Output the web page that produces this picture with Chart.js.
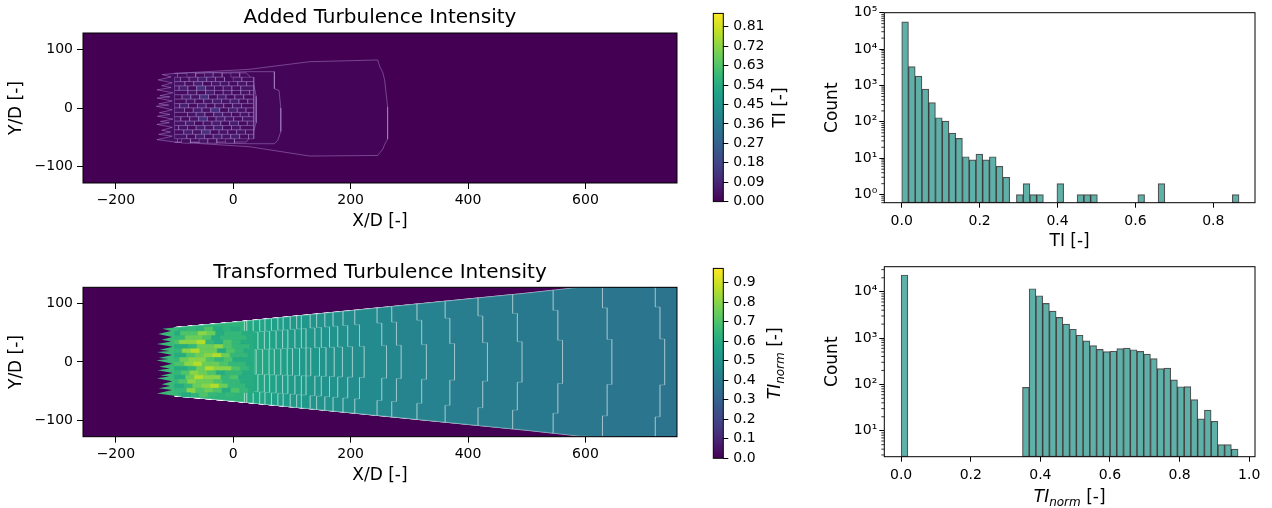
<!DOCTYPE html>
<html>
<head>
<meta charset="utf-8">
<title>Turbulence Intensity</title>
<script src="https://cdn.jsdelivr.net/npm/chart.js@4.4.1/dist/chart.umd.min.js"></script>
<style>
  html, body { margin: 0; padding: 0; background: #ffffff; }
  #fig { position: relative; width: 1272px; height: 508px; overflow: hidden; background: #ffffff; }
  #fig canvas { position: absolute; }
</style>
</head>
<body>
<div id="fig">
  <canvas id="mapAdded" width="700" height="245" style="left:0px;top:0px"></canvas>
  <canvas id="cbAdded" width="100" height="215" style="left:700px;top:0px"></canvas>
  <canvas id="histAdded" width="472" height="255" style="left:800px;top:0px"></canvas>
  <canvas id="mapNorm" width="700" height="253" style="left:0px;top:255px"></canvas>
  <canvas id="cbNorm" width="100" height="253" style="left:700px;top:255px"></canvas>
  <canvas id="histNorm" width="472" height="253" style="left:800px;top:255px"></canvas>
</div>
<script>
// ======================= DATA =======================
// axes of the two wake maps
const mapXLimits = [-256, 756];
const mapYLimits = [-128, 128];
const mapXTicks = [-200, 0, 200, 400, 600];
const mapYTicks = [-100, 0, 100];

// colour bars
const cbAddedMax = 0.872;
const cbAddedTicks = [0, 0.09, 0.18, 0.27, 0.36, 0.45, 0.54, 0.63, 0.72, 0.81];
const cbNormMax = 0.973;
const cbNormTicks = [0, 0.1, 0.2, 0.3, 0.4, 0.5, 0.6, 0.7, 0.8, 0.9];

// jagged upstream edge of the wake (X/D, Y/D), shared by both maps
const spikeX = [-95, -100, -121, -106, -128, -104, -122, -106, -130, -103, -125, -108, -130, -104, -127, -110, -131,
                -104, -126, -108, -129, -103, -124, -109, -130, -104, -122, -107, -127, -104, -130, -100, -95];
const spikeY = [59, 59, 57, 53, 48, 43, 38, 35, 31, 26, 21, 19, 17, 12, 7, 5, 3,
                -3, -8, -11, -14, -19, -23, -25, -28, -33, -38, -41, -45, -48, -54, -58, -58];

// near-wake cells shared by both maps (column edges in X/D, row edges in Y/D, per-row streak shift in X/D)
const nearColX = [-100, -85, -70, -55, -40, -25, -10, 5, 20, 35];
const nearRowY = [67.5, 60, 52.5, 45, 37.5, 30, 22.5, 15, 7.5, 0, -7.5, -15, -22.5, -30, -37.5, -45, -52.5, -60, -67.5];
const nearRowShift = [0, 6, -5, 3, -7, 8, -2, 5, -6, 2, 7, -4, 4, -8, 1, 6, -3, 0];

// ---- Added turbulence intensity map: nested contour zones and their TI
const addZoneAX = [-100, 27, 130, 246, 250, 255, 258, 263, 263, 258, 255, 250, 246, 130, 27, -100];
const addZoneAY = [59, 66, 79, 82, 70, 60, 47, 2, -53, -62, -70, -76, -81, -82, -66, -58];
const addZoneBX = [-100, 27, 70, 70, 78, 81, 81, 76, 70, 27, -100];
const addZoneBY = [59, 62, 62, 33, 30, 0, -40, -55, -61, -61, -58];
const addZoneCX = [-100, 22, 30, 35, 39, 39, 33, 22, -100];
const addZoneCY = [59, 60, 52, 40, 20, -25, -45, -58, -58];
const addZoneLevel = [0.008, 0.014, 0.022];
const addSpikeLevel = 0.03;
// added TI in the near wake ('.' = zone value underneath)
const addCodeLevel = {'1': 0.025, '2': 0.045, '3': 0.07, '4': 0.12};
const addNearCodes = [
  ".........",
  ".1.21.1..",
  "212321.21",
  "213122121",
  "231421212",
  "121312121",
  "132413121",
  "121232312",
  "231312121",
  "213241321",
  "123132121",
  "212413212",
  "231231312",
  "121323121",
  "132412121",
  "213132312",
  ".1.21.1..",
  "........."
];

// ---- Transformed (normalised) TI map
// wake cone outline
const coneX   = [-100, 0, 100, 200, 300, 400, 500, 590, 770];
const coneTop = [59, 68, 78, 88, 98, 108, 118, 128, 132];
const coneBot = [-58, -67, -77, -87, -97, -107, -117, -127, -132];
// contour edges on the centreline and the TI_norm level left of each edge
const normEdgeX = [35, 39, 50, 61, 70, 81, 92, 101, 113, 124, 132, 147, 158, 172, 186, 203, 223, 261, 286, 329, 377, 433, 492, 561, 645, 735];
const normEdgeLevel = [0.63, 0.60, 0.59, 0.58, 0.57, 0.56, 0.55, 0.54, 0.53, 0.52, 0.515, 0.51, 0.50, 0.495, 0.49, 0.48, 0.47, 0.46, 0.45, 0.44, 0.43, 0.415, 0.405, 0.395, 0.385, 0.378];
const normFarLevel = 0.372;
const normSpikeLevel = 0.66;
const normCodeLevel = {'1': 0.50, '2': 0.55, '3': 0.60, '4': 0.65, '5': 0.70, '6': 0.75, '7': 0.80, '8': 0.86, '9': 0.92};
const normNearCodes = [
  ".........",
  ".4.53.3..",
  "355763443",
  "466534443",
  "577843543",
  "346675443",
  "478663543",
  "356786443",
  "467754533",
  "578665443",
  "346877543",
  "457653443",
  "368774533",
  "457665443",
  "346786443",
  "475653543",
  ".3.54.4..",
  "........."
];

// ---- Histogram of added TI (50 bins)
const tiBinCenters = [0.0087, 0.026, 0.0433, 0.0606, 0.0779, 0.0953, 0.1126, 0.1299, 0.1472, 0.1646,
  0.1819, 0.1992, 0.2165, 0.2338, 0.2512, 0.2685, 0.2858, 0.3031, 0.3205, 0.3378,
  0.3551, 0.3724, 0.3897, 0.4071, 0.4244, 0.4417, 0.459, 0.4764, 0.4937, 0.511,
  0.5283, 0.5456, 0.563, 0.5803, 0.5976, 0.6149, 0.6323, 0.6496, 0.6669, 0.6842,
  0.7015, 0.7189, 0.7362, 0.7535, 0.7708, 0.7882, 0.8055, 0.8228, 0.8401, 0.8574];
const tiCounts = [56000, 3300, 1800, 790, 340, 130, 105, 49, 35, 11,
  9, 13, 9, 11, 6, 3, null, 1, 2, 1,
  1, null, null, 2, null, null, 1, 1, 1, null,
  null, null, null, null, null, 1, null, null, 2, null,
  null, null, null, null, null, null, null, null, null, 1];
const tiXLimits = [-0.0447, 0.907];
const tiXTicks = [0, 0.2, 0.4, 0.6, 0.8];
const tiYLimits = [0.62, 100000];
const tiYTicks = [1, 10, 100, 1000, 10000, 100000];

// ---- Histogram of TI_norm (50 bins)
const normBinCenters = [0.0097, 0.029, 0.0484, 0.0678, 0.0871, 0.1065, 0.1258, 0.1452, 0.1646, 0.1839,
  0.2033, 0.2226, 0.242, 0.2614, 0.2807, 0.3001, 0.3194, 0.3388, 0.3582, 0.3775,
  0.3969, 0.4162, 0.4356, 0.455, 0.4743, 0.4937, 0.513, 0.5324, 0.5518, 0.5711,
  0.5905, 0.6098, 0.6292, 0.6486, 0.6679, 0.6873, 0.7066, 0.726, 0.7454, 0.7647,
  0.7841, 0.8034, 0.8228, 0.8422, 0.8615, 0.8809, 0.9002, 0.9196, 0.939, 0.9583];
const normCounts = [23000, null, null, null, null, null, null, null, null, null,
  null, null, null, null, null, null, null, null, 86, 11600,
  8200, 5600, 3800, 2800, 2000, 1550, 1150, 870, 690, 570,
  510, 520, 590, 610, 560, 515, 450, 360, 220, 225,
  125, 89, 90, 47, 18, 28, 16, 5, 5, 4];
const normXLimits = [-0.0484, 1.0166];
const normXTicks = [0, 0.2, 0.4, 0.6, 0.8, 1.0];
const normYLimits = [2.75, 34700];
const normYTicks = [10, 100, 1000, 10000];

// ======================= HELPERS =======================
Chart.defaults.font.family = '"DejaVu Sans", "Liberation Sans", sans-serif';
Chart.defaults.color = '#000';

const VIRIDIS = [[0,'#440154'],[0.1,'#482475'],[0.111,'#482878'],[0.2,'#414487'],[0.222,'#3e4989'],
  [0.3,'#355f8d'],[0.333,'#31688e'],[0.4,'#2a788e'],[0.444,'#26828e'],[0.5,'#21918c'],[0.556,'#1f9e89'],
  [0.6,'#22a884'],[0.667,'#35b779'],[0.7,'#44bf70'],[0.778,'#6ece58'],[0.8,'#7ad151'],[0.889,'#b5de2b'],
  [0.9,'#bddf26'],[1,'#fde725']];
const VIR_RGB = VIRIDIS.map(([t, h]) => [t, [parseInt(h.slice(1,3),16), parseInt(h.slice(3,5),16), parseInt(h.slice(5,7),16)]]);
function viridis(t) {
  t = Math.max(0, Math.min(1, t));
  for (let i = 1; i < VIR_RGB.length; i++) {
    const [t1, c1] = VIR_RGB[i];
    if (t <= t1) {
      const [t0, c0] = VIR_RGB[i - 1];
      const f = (t - t0) / (t1 - t0);
      return 'rgb(' + c0.map((v, k) => Math.round(v + f * (c1[k] - v))).join(',') + ')';
    }
  }
  return 'rgb(253,231,37)';
}
const minus = v => (v < 0 ? '\u2212' + Math.abs(v) : String(v));
const SUP = {'-':'\u207B','0':'\u2070','1':'\u00B9','2':'\u00B2','3':'\u00B3','4':'\u2074','5':'\u2075','6':'\u2076','7':'\u2077','8':'\u2078','9':'\u2079'};
const pow10Label = v => '10' + String(Math.round(Math.log10(v))).split('').map(c => SUP[c]).join('');

function poly(points, fill, line, width) {
  return {
    type: 'line', data: points, fill: 'shape', backgroundColor: fill,
    borderColor: line || fill, borderWidth: (width === undefined ? 0 : width),
    pointRadius: 0, pointHoverRadius: 0, tension: 0
  };
}
function closed(pts) { return pts.concat([pts[0]]); }
function zone(xs, ys) { return closed(xs.map((x, i) => ({x: x, y: ys[i]}))); }
function rect(x0, y0, x1, y1) { return closed([{x:x0,y:y0},{x:x1,y:y0},{x:x1,y:y1},{x:x0,y:y1}]); }
function along(xs, ys, x) {
  if (x <= xs[0]) return ys[0];
  for (let i = 1; i < xs.length; i++) if (x <= xs[i]) return ys[i-1] + (ys[i] - ys[i-1]) * (x - xs[i-1]) / (xs[i] - xs[i-1]);
  return ys[ys.length - 1];
}
// contour band: wake cone up to a stepped edge whose centre sits at xe
function bandPolygon(xe) {
  const xo = xe - 16, xm = xe - 8;
  const tO = along(coneX, coneTop, xo), bO = along(coneX, coneBot, xo);
  const tM = along(coneX, coneTop, xm), bM = along(coneX, coneBot, xm);
  const pts = [];
  coneX.forEach((x, i) => { if (x < xo) pts.push({x: x, y: coneTop[i]}); });
  pts.push({x: xo, y: tO}, {x: xo, y: 0.72 * tO}, {x: xm, y: 0.72 * tO}, {x: xm, y: 0.3 * tM},
           {x: xe, y: 0.3 * tM}, {x: xe, y: 0.3 * bM}, {x: xm, y: 0.3 * bM}, {x: xm, y: 0.72 * bO},
           {x: xo, y: 0.72 * bO}, {x: xo, y: bO});
  for (let i = coneX.length - 1; i >= 0; i--) if (coneX[i] < xo) pts.push({x: coneX[i], y: coneBot[i]});
  return closed(pts);
}
function cellSets(codes, levels, vmax, line, lineFrom) {
  const out = [];
  codes.forEach((row, r) => {
    const last = nearColX.length - 1;
    const edges = nearColX.map((x, c) => (c === 0 || c === last) ? x : x + nearRowShift[r]);
    for (let c = 0; c < row.length; c++) {
      const ch = row[c];
      if (ch === '.') continue;
      const v = levels[ch];
      const col = viridis(v / vmax);
      const pts = rect(edges[c], nearRowY[r], edges[c + 1], nearRowY[r + 1]);
      if (line && ch >= lineFrom) out.push(poly(pts, col, line, 0.8));
      else out.push(poly(pts, col, col, 0.6));
    }
  });
  return out;
}

const framePlugin = {
  id: 'frame',
  afterDraw(chart) {
    const {ctx, chartArea: a} = chart;
    ctx.save();
    ctx.strokeStyle = '#000';
    ctx.lineWidth = 1;
    ctx.strokeRect(a.left, a.top, a.right - a.left, a.bottom - a.top);
    ctx.restore();
  }
};
const minorLogTicks = {
  id: 'minorLogTicks',
  afterDraw(chart) {
    const s = chart.scales.y;
    const ctx = chart.ctx;
    ctx.save();
    ctx.strokeStyle = '#000';
    ctx.lineWidth = 0.8;
    const lo = Math.floor(Math.log10(s.min)), hi = Math.ceil(Math.log10(s.max));
    for (let e = lo; e <= hi; e++) {
      for (let k = 2; k <= 9; k++) {
        const v = k * Math.pow(10, e);
        if (v < s.min || v > s.max) continue;
        const y = s.getPixelForValue(v);
        ctx.beginPath();
        ctx.moveTo(s.right - 3, y);
        ctx.lineTo(s.right, y);
        ctx.stroke();
      }
    }
    ctx.restore();
  }
};
function richLabel(parts, mode, offset) {
  return {
    id: 'richLabel',
    afterDraw(chart) {
      const ctx = chart.ctx, a = chart.chartArea;
      ctx.save();
      let w = 0;
      parts.forEach(p => { ctx.font = p.font; w += ctx.measureText(p.text).width; });
      if (mode === 'right') { ctx.translate(a.right + offset, (a.top + a.bottom) / 2); ctx.rotate(-Math.PI / 2); }
      else { ctx.translate((a.left + a.right) / 2, a.bottom + offset); }
      ctx.fillStyle = '#000';
      ctx.textBaseline = 'alphabetic';
      ctx.textAlign = 'left';
      let x = -w / 2;
      parts.forEach(p => { ctx.font = p.font; ctx.fillText(p.text, x, p.dy || 0); x += ctx.measureText(p.text).width; });
      ctx.restore();
    }
  };
}

const tickGrid = len => ({display: true, drawOnChartArea: false, drawTicks: true, tickLength: len, tickColor: '#000', tickWidth: 1, offset: false});
const baseOpts = {responsive: false, animation: false, events: [], devicePixelRatio: 1};

function mapChart(id, sets, title, d) {
  sets.forEach((s, i) => { s.order = sets.length - i; });
  return new Chart(document.getElementById(id), {
    type: 'line',
    data: {datasets: sets},
    options: Object.assign({}, baseOpts, {
      layout: {padding: {left: 0, right: 23, top: 0, bottom: 0}},
      elements: {point: {radius: 0, hoverRadius: 0}, line: {tension: 0}},
      plugins: {
        legend: {display: false}, tooltip: {enabled: false},
        title: {display: true, text: title, fullSize: false, color: '#000',
                font: {size: 20, weight: 'normal'}, padding: {top: d.titleTop, bottom: d.titleBottom}}
      },
      scales: {
        x: {type: 'linear', min: mapXLimits[0], max: mapXLimits[1], offset: false,
            grid: tickGrid(6), border: {display: false},
            ticks: {font: {size: 14}, color: '#000', padding: d.xTickPad, maxRotation: 0, autoSkip: false, callback: v => minus(v)},
            title: {display: true, text: 'X/D [-]', color: '#000', font: {size: 17}, padding: {top: 0, bottom: d.xTitleBottom}},
            afterBuildTicks: s => { s.ticks = mapXTicks.map(v => ({value: v})); },
            afterFit: s => { s.height = d.xHeight; }},
        y: {type: 'linear', min: mapYLimits[0], max: mapYLimits[1],
            grid: tickGrid(6), border: {display: false},
            ticks: {font: {size: 14}, color: '#000', padding: 4, autoSkip: false, callback: v => minus(v)},
            title: {display: true, text: 'Y/D [-]', color: '#000', font: {size: 17}, padding: {top: 6.4, bottom: 0}},
            afterBuildTicks: s => { s.ticks = mapYTicks.map(v => ({value: v})); },
            afterFit: s => { s.width = 83; }}
      }
    }),
    plugins: [framePlugin]
  });
}

function colorbarChart(id, vmax, ticks, decimals, pad, label, labelOffset) {
  return new Chart(document.getElementById(id), {
    type: 'bar',
    data: {labels: ['level'], datasets: [{
      data: [[0, vmax]], borderWidth: 0, barPercentage: 1, categoryPercentage: 1,
      backgroundColor: (ctx) => {
        const ch = ctx.chart;
        if (!ch.chartArea) return '#440154';
        const ys = ch.scales.y;
        const g = ch.ctx.createLinearGradient(0, ys.getPixelForValue(0), 0, ys.getPixelForValue(vmax));
        VIRIDIS.forEach(([t, h]) => g.addColorStop(t, h));
        return g;
      }
    }]},
    options: Object.assign({}, baseOpts, {
      layout: {padding: pad},
      plugins: {legend: {display: false}, tooltip: {enabled: false}, title: {display: false}},
      scales: {
        x: {display: false},
        y: {position: 'right', min: 0, max: vmax, grid: tickGrid(5), border: {display: false},
            ticks: {font: {size: 14}, color: '#000', padding: 5, autoSkip: false, callback: v => Number(v).toFixed(decimals)},
            afterBuildTicks: s => { s.ticks = ticks.map(v => ({value: v})); },
            afterFit: s => { s.width = 76.7; }}
      }
    }),
    plugins: [framePlugin, richLabel(label, 'right', labelOffset)]
  });
}

const barFill = '#5db1a9';
const barEdge = 'rgba(0,0,0,0.68)';
function histChart(id, centers, counts, xLim, xTicks, yLim, yTicks, d, extra) {
  const plugins = [framePlugin, minorLogTicks];
  if (extra) plugins.push(extra);
  return new Chart(document.getElementById(id), {
    type: 'bar',
    data: {datasets: [{
      data: centers.map((c, i) => ({x: c, y: counts[i]})),
      backgroundColor: barFill, borderColor: barEdge, borderWidth: 1.2, borderSkipped: false,
      barPercentage: 1, categoryPercentage: 1
    }]},
    options: Object.assign({}, baseOpts, {
      layout: {padding: {left: 0, right: 17, top: d.top, bottom: 0}},
      plugins: {legend: {display: false}, tooltip: {enabled: false}, title: {display: false}},
      scales: {
        x: {type: 'linear', min: xLim[0], max: xLim[1], offset: false,
            grid: tickGrid(5), border: {display: false},
            ticks: {font: {size: 14}, color: '#000', padding: 5.5, maxRotation: 0, autoSkip: false, callback: v => Number(v).toFixed(1)},
            title: d.xTitle ? {display: true, text: d.xTitle, color: '#000', font: {size: 17}, padding: {top: 0, bottom: d.xTitleBottom}} : {display: false},
            afterBuildTicks: s => { s.ticks = xTicks.map(v => ({value: v})); },
            afterFit: s => { s.height = d.xHeight; }},
        y: {type: 'logarithmic', min: yLim[0], max: yLim[1],
            grid: tickGrid(5), border: {display: false},
            ticks: {font: {size: 14}, color: '#000', padding: 2, autoSkip: false, callback: v => pow10Label(v)},
            title: {display: true, text: 'Count', color: '#000', font: {size: 17}, padding: {top: 22.8, bottom: 0}},
            afterBuildTicks: s => { s.ticks = yTicks.map(v => ({value: v})); },
            afterFit: s => { s.width = 84.3; }}
      }
    }),
    plugins: plugins
  });
}

// ======================= BUILD =======================
const lilac = 'rgba(196,168,232,0.5)';
const lilacSoft = 'rgba(196,168,232,0.38)';
const addSets = [poly(rect(-400, -300, 900, 300), viridis(0))];
addSets.push(poly(zone(addZoneAX, addZoneAY), viridis(addZoneLevel[0] / cbAddedMax), lilac, 0.8));
addSets.push(poly(zone(addZoneBX, addZoneBY), viridis(addZoneLevel[1] / cbAddedMax), lilac, 0.8));
addSets.push(poly(zone(addZoneCX, addZoneCY), viridis(addZoneLevel[2] / cbAddedMax), lilac, 0.8));
addSets.push(poly(zone(spikeX, spikeY), viridis(addSpikeLevel / cbAddedMax), lilac, 0.8));
cellSets(addNearCodes, addCodeLevel, cbAddedMax, lilacSoft, '1').forEach(s => addSets.push(s));

const contourLight = 'rgba(255,255,255,0.3)';
const normSets = [poly(rect(-400, -300, 900, 300), viridis(0))];
const farPts = coneX.map((x, i) => ({x: x, y: coneTop[i]})).concat(coneX.map((x, i) => ({x: x, y: coneBot[i]})).reverse());
normSets.push(poly(closed(farPts), viridis(normFarLevel / cbNormMax), contourLight, 0.8));
for (let i = normEdgeX.length - 1; i >= 0; i--) {
  normSets.push(poly(bandPolygon(normEdgeX[i]), viridis(normEdgeLevel[i] / cbNormMax), contourLight, 0.8));
}
normSets.push(poly(zone(spikeX, spikeY), viridis(normSpikeLevel / cbNormMax)));
cellSets(normNearCodes, normCodeLevel, cbNormMax, null, '9').forEach(s => normSets.push(s));

mapChart('mapAdded', addSets, 'Added Turbulence Intensity',
  {titleTop: 5.4, titleBottom: 3.6, xTickPad: 2.8, xTitleBottom: 13, xHeight: 62});
mapChart('mapNorm', normSets, 'Transformed Turbulence Intensity',
  {titleTop: 5.4, titleBottom: 2.9, xTickPad: 3.1, xTitleBottom: 22, xHeight: 71.3});

colorbarChart('cbAdded', cbAddedMax, cbAddedTicks, 2, {left: 13.3, right: 0, top: 13.3, bottom: 13.3},
  [{text: 'TI [-]', font: '17px "DejaVu Sans"'}], 62);
colorbarChart('cbNorm', cbNormMax, cbNormTicks, 1, {left: 13.3, right: 0, top: 13.3, bottom: 49.7},
  [{text: 'TI', font: 'italic 17px "DejaVu Sans"'}, {text: 'norm', font: 'italic 12px "DejaVu Sans"', dy: 4},
   {text: ' [-]', font: '17px "DejaVu Sans"'}], 56.7);

histChart('histAdded', tiBinCenters, tiCounts, tiXLimits, tiXTicks, tiYLimits, tiYTicks,
  {top: 12.7, xHeight: 52.3, xTitle: 'TI [-]', xTitleBottom: 3.4});
histChart('histNorm', normBinCenters, normCounts, normXLimits, normXTicks, normYLimits, normYTicks,
  {top: 11.7, xHeight: 51.3, xTitle: null},
  richLabel([{text: 'TI', font: 'italic 17px "DejaVu Sans"'}, {text: 'norm', font: 'italic 12px "DejaVu Sans"', dy: 4},
             {text: ' [-]', font: '17px "DejaVu Sans"'}], 'below', 45.3));
</script>
</body>
</html>
